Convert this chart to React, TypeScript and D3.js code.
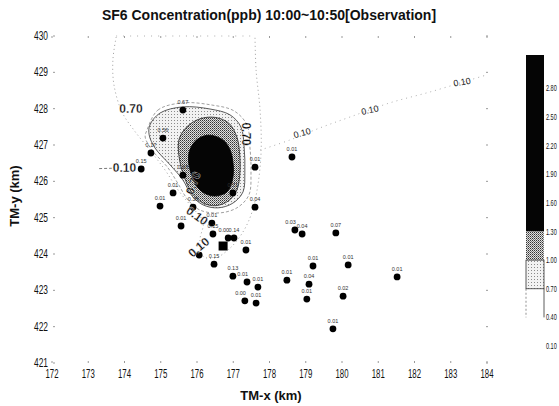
import React from "react";
import * as d3 from "d3";

// ---------- data ----------
const xTicks = [172, 173, 174, 175, 176, 177, 178, 179, 180, 181, 182, 183, 184];
const yTicks = [421, 422, 423, 424, 425, 426, 427, 428, 429, 430];

// observation stations [TM-x, TM-y]
const stationX = [175.61, 175.06, 174.73, 174.46, 175.61, 175.34, 174.98, 175.89, 177.6, 176.99, 177.6, 175.56, 176.41, 176.44, 176.86, 177.02, 177.35, 176.06, 176.47, 176.99, 177.38, 177.68, 177.32, 177.63, 178.7, 178.9, 179.83, 179.2, 180.17, 178.48, 179.09, 179.03, 180.03, 181.52, 179.75, 178.62];
const stationY = [427.96, 427.19, 426.78, 426.34, 426.17, 425.68, 425.32, 425.29, 426.39, 425.68, 425.29, 424.77, 424.85, 424.55, 424.44, 424.44, 424.11, 423.97, 423.72, 423.39, 423.23, 423.09, 422.71, 422.65, 424.66, 424.55, 424.58, 423.67, 423.7, 423.28, 423.17, 422.76, 422.84, 423.37, 421.94, 426.67];
const stationValue = ["0.67", "0.56", "0.17", "0.15", "0.68", "0.01", "0.01", "0.38", "0.01", "0.71", "0.04", "0.01", "0.01", "0.15", "0.00", "0.14", "0.01", "", "0.15", "0.13", "0.01", "0.01", "0.00", "0.01", "0.03", "0.04", "0.07", "0.01", "0.01", "0.01", "0.04", "0.01", "0.02", "0.01", "0.01", "0.01"];

// release point
const sourceXY = [176.72, 424.22];

// filled contour polygons [TM-x, TM-y]
const contour130 = [[175.8, 426.86], [176.0, 427.15], [176.3, 427.27], [176.67, 427.17], [176.9, 426.9], [177.0, 426.45], [176.98, 426.05], [176.84, 425.72], [176.55, 425.6], [176.25, 425.65], [176.0, 425.85], [175.85, 426.17], [175.77, 426.53]];
const contour100 = [[175.5, 427.14], [175.72, 427.5], [176.08, 427.72], [176.5, 427.76], [176.88, 427.6], [177.1, 427.22], [177.18, 426.72], [177.18, 426.17], [177.1, 425.76], [176.88, 425.47], [176.52, 425.33], [176.15, 425.41], [175.87, 425.66], [175.68, 426.04], [175.53, 426.53]];
const contour070 = [[174.7, 427.55], [174.98, 427.88], [175.61, 428.05], [176.36, 427.99], [176.91, 427.83], [177.21, 427.5], [177.3, 426.94], [177.32, 426.26], [177.27, 425.71], [176.99, 425.4], [176.58, 425.27], [176.17, 425.35], [175.86, 425.6], [175.61, 426.04], [175.26, 426.45], [174.84, 426.92], [174.68, 427.28]];
const contour040 = [[174.62, 427.41], [174.92, 427.96], [175.61, 428.16], [176.41, 428.1], [177.02, 427.94], [177.38, 427.55], [177.46, 426.94], [177.49, 426.26], [177.43, 425.62], [177.1, 425.27], [176.61, 425.13], [176.08, 425.21], [175.75, 425.49], [175.48, 425.93], [175.2, 426.37], [174.76, 426.86], [174.57, 427.22]];
// 0.10 contour lines
const contour010Loop = [[173.77, 429.97], [173.68, 429.34], [173.71, 428.65], [173.93, 427.91], [174.26, 427.41], [174.7, 426.86], [175.12, 426.31], [175.48, 425.76], [175.86, 425.29], [176.17, 424.88], [176.08, 424.38], [176.17, 423.94], [176.5, 423.89], [176.91, 424.16], [177.27, 424.61], [177.52, 425.16], [177.68, 425.9], [177.77, 426.86], [177.74, 427.96], [177.63, 429.06], [177.6, 429.97]];
const contour010Top = [[173.77, 430.0], [175.5, 430.0], [177.6, 430.0]];
const contour010East = [[177.74, 426.86], [178.57, 427.14], [179.39, 427.47], [180.22, 427.77], [181.32, 428.16], [182.43, 428.46], [183.53, 428.79], [184.06, 428.95]];
const contour010West = [[173.3, 426.35], [173.65, 426.36]];

// contour labels: text, TM-x, TM-y, angle
const contourLabels: [string, number, number, number][] = [
  ["0.70", 174.18, 428.0, 0],
  ["0.70", 177.35, 427.3, 90],
  ["0.70", 175.9, 425.95, -70],
  ["0.10", 174.0, 426.38, 0],
  ["0.10", 176.0, 425.05, 35],
  ["0.10", 176.05, 424.18, -40],
];
const contourLabelsEast: [string, number, number, number][] = [
  ["0.10", 178.9, 427.33, -15],
  ["0.10", 180.77, 427.96, -12],
  ["0.10", 183.31, 428.73, -10],
];

// colour bar
const barLabels = ["2.80", "2.50", "2.20", "1.90", "1.60", "1.30", "1.00", "0.70", "0.40", "0.10"];
const barValues = [2.8, 2.5, 2.2, 1.9, 1.6, 1.3, 1.0, 0.7, 0.4, 0.1];
const barTop = 3.15;

// ---------- chart ----------
const W = 559;
const H = 406;
const FONT = "'Liberation Sans', Arial, Helvetica, sans-serif";

export default function App() {
  const x = d3.scaleLinear().domain([172, 184]).range([52, 487]);
  const y = d3.scaleLinear().domain([421, 430]).range([363, 36]);
  const closed = d3
    .line<number[]>()
    .x((d) => x(d[0]))
    .y((d) => y(d[1]))
    .curve(d3.curveCatmullRomClosed.alpha(0.5));
  const open = d3
    .line<number[]>()
    .x((d) => x(d[0]))
    .y((d) => y(d[1]))
    .curve(d3.curveCatmullRom.alpha(0.5));

  const cb = d3.scaleLinear().domain([0.1, barTop]).range([346, 55]);
  const cbX0 = 526;
  const cbX1 = 544;

  // station label placement: shift left when a neighbour sits just to the right
  const px = stationX.map((v) => x(v));
  const py = stationY.map((v) => y(v));
  const crowded = px.map((xi, i) =>
    px.some((xj, j) => j !== i && xj > xi && xj - xi < 12 && Math.abs(py[j] - py[i]) < 6 && stationValue[j] !== "")
  );

  return (
    <svg width={W} height={H} style={{ position: "absolute", left: 0, top: 0, background: "#fff" }}>
      <defs>
        <pattern id="light" width="3" height="3" patternUnits="userSpaceOnUse">
          <rect width="3" height="3" fill="#f2f2f2" />
          <rect x="0" y="0" width="1" height="1" fill="#8a8a8a" />
        </pattern>
        <pattern id="gray" width="2" height="2" patternUnits="userSpaceOnUse">
          <rect width="2" height="2" fill="#e0e0e0" />
          <rect x="0" y="0" width="1" height="1" fill="#333" />
          <rect x="1" y="1" width="1" height="1" fill="#777" />
        </pattern>
        <clipPath id="plot">
          <rect x={x(172)} y={y(430) - 2} width={x(184) - x(172)} height={y(421) - y(430) + 2} />
        </clipPath>
      </defs>

      {/* title */}
      <text x={269} y={20} textAnchor="middle" fontFamily={FONT} fontWeight="bold" fontSize={14} fill="#111">
        SF6 Concentration(ppb) 10:00~10:50[Observation]
      </text>

      {/* tick marks */}
      <g stroke="#999" strokeWidth={1}>
        {yTicks.map((t) => (
          <g key={"yt" + t}>
            <line x1={x(172) + 1} x2={x(172) + 3} y1={y(t)} y2={y(t)} />
            <line x1={x(184) - 1} x2={x(184) + 1} y1={y(t)} y2={y(t)} />
          </g>
        ))}
        {xTicks.map((t) => (
          <g key={"xt" + t}>
            <line x1={x(t)} x2={x(t)} y1={y(430)} y2={y(430) + 2} />
            <line x1={x(t)} x2={x(t)} y1={y(421) - 2} y2={y(421)} />
          </g>
        ))}
      </g>

      {/* tick labels */}
      <g fontFamily={FONT} fontSize={12} fill="#111">
        {yTicks.map((t) => (
          <text key={"yl" + t} x={48} y={y(t) + 4} textAnchor="end" textLength={14} lengthAdjust="spacingAndGlyphs">
            {t}
          </text>
        ))}
        {xTicks.map((t) => (
          <text key={"xl" + t} x={x(t)} y={y(421) + 15} textAnchor="middle" textLength={13} lengthAdjust="spacingAndGlyphs">
            {t}
          </text>
        ))}
      </g>

      {/* axis titles */}
      <text x={271} y={400} textAnchor="middle" fontFamily={FONT} fontWeight="bold" fontSize={13} fill="#111">
        TM-x (km)
      </text>
      <text
        transform={`translate(19,${196}) rotate(-90)`}
        textAnchor="middle"
        fontFamily={FONT}
        fontWeight="bold"
        fontSize={13}
        fill="#111"
      >
        TM-y (km)
      </text>

      {/* contours */}
      <g clipPath="url(#plot)">
        <path d={closed(contour040) || ""} fill="none" stroke="#777" strokeWidth={0.7} strokeDasharray="3,2" />
        <path d={closed(contour070) || ""} fill="url(#light)" stroke="#333" strokeWidth={0.8} />
        <path d={closed(contour100) || ""} fill="url(#gray)" stroke="#222" strokeWidth={0.8} />
        <path d={closed(contour130) || ""} fill="#050505" stroke="#000" strokeWidth={0.8} />
        <path d={open(contour010Loop) || ""} fill="none" stroke="#888" strokeWidth={0.8} strokeDasharray="1,3" />
        <path d={open(contour010Top) || ""} fill="none" stroke="#999" strokeWidth={0.8} strokeDasharray="1,6" />
        <path d={open(contour010East) || ""} fill="none" stroke="#999" strokeWidth={0.8} strokeDasharray="1,4" />
        <path d={open(contour010West) || ""} fill="none" stroke="#555" strokeWidth={0.8} strokeDasharray="3,2" />
      </g>

      {/* stations */}
      <g>
        {stationX.map((sx, i) => (
          <g key={"st" + i}>
            <circle cx={px[i]} cy={py[i]} r={3.4} fill="#000" />
            {stationValue[i] && (
              <text
                x={crowded[i] ? px[i] + 1 : px[i]}
                y={py[i] - 6}
                textAnchor={crowded[i] ? "end" : "middle"}
                fontFamily={FONT}
                fontSize={5.5}
                fill="#333"
              >
                {stationValue[i]}
              </text>
            )}
          </g>
        ))}
        <rect x={x(sourceXY[0]) - 4.5} y={y(sourceXY[1]) - 4.5} width={9} height={9} fill="#000" />
      </g>

      {/* contour labels */}
      <g fontFamily={FONT} fontWeight="bold" fontSize={12} fill="#000">
        {contourLabels.map(([t, lx, ly, a], i) => (
          <text
            key={"cl" + i}
            transform={`translate(${x(lx)},${y(ly)}) rotate(${a})`}
            textAnchor="middle"
            dominantBaseline="central"
            stroke="#fff"
            strokeWidth={0.3}
          >
            {t}
          </text>
        ))}
      </g>
      <g fontFamily={FONT} fontSize={9} fill="#222">
        {contourLabelsEast.map(([t, lx, ly, a], i) => (
          <text
            key={"ce" + i}
            transform={`translate(${x(lx)},${y(ly)}) rotate(${a})`}
            textAnchor="middle"
            dominantBaseline="central"
          >
            {t}
          </text>
        ))}
      </g>

      {/* colour bar */}
      <g>
        <rect x={cbX0} y={cb(barTop)} width={cbX1 - cbX0} height={cb(1.3) - cb(barTop)} fill="#050505" />
        <rect x={cbX0} y={cb(1.3)} width={cbX1 - cbX0} height={cb(1.0) - cb(1.3)} fill="url(#gray)" />
        <rect x={cbX0} y={cb(1.0)} width={cbX1 - cbX0} height={cb(0.7) - cb(1.0)} fill="url(#light)" stroke="#333" strokeWidth={0.8} />
        <line x1={cbX0} x2={cbX0} y1={cb(0.7)} y2={cb(0.4)} stroke="#777" strokeWidth={0.8} strokeDasharray="2,2" />
        <line x1={cbX1} x2={cbX1} y1={cb(0.7)} y2={cb(0.4)} stroke="#333" strokeWidth={0.8} />
        {barLabels.map((l, i) => (
          <text
            key={"bl" + i}
            transform={`translate(${cbX1 + 2},${cb(barValues[i]) + 3}) scale(0.65,1)`}
            fontFamily={FONT}
            fontSize={8.5}
            fill="#111"
          >
            {l}
          </text>
        ))}
      </g>
    </svg>
  );
}
